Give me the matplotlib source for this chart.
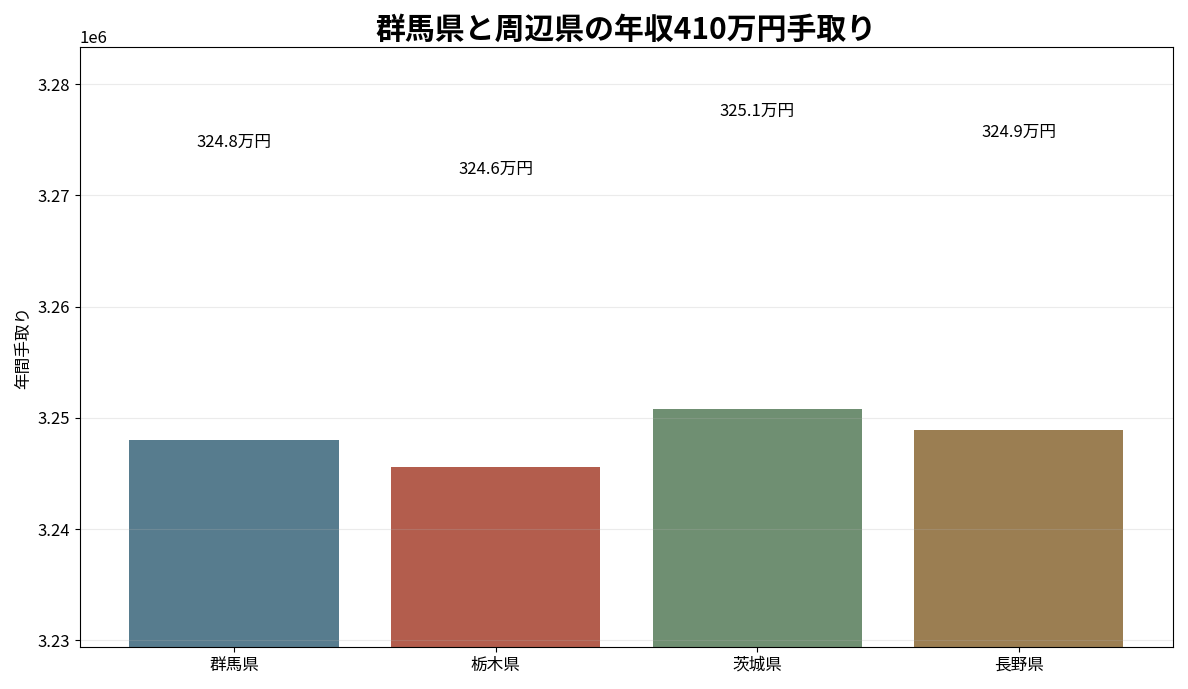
import matplotlib
matplotlib.use("Agg")
import matplotlib.pyplot as plt

plt.rcParams['font.family'] = ['Noto Sans CJK JP', 'DejaVu Sans']

# 手取り額（円）
prefs = ["群馬県", "栃木県", "茨城県", "長野県"]
takehome = [3248000, 3245600, 3250800, 3248900]
colors = ["#577c8e", "#b35d4d", "#6f8f72", "#9b7e52"]

fig, ax = plt.subplots(figsize=(11.88, 6.89), dpi=100)
bars = ax.bar(prefs, takehome, color=colors, width=0.8)

ax.set_ylim(min(takehome) * 0.995, max(takehome) * 1.01)
ax.grid(axis="y", alpha=0.25)

for b, v in zip(bars, takehome):
    ax.text(b.get_x() + b.get_width() / 2, v + max(takehome) * 0.008,
            "%.1f万円" % (v / 10000), ha="center", va="bottom", fontsize=12)

ax.set_ylabel("年間手取り", fontsize=12)
ax.set_title("群馬県と周辺県の年収410万円手取り", fontsize=21.5, fontweight="bold")
ax.tick_params(labelsize=12)
ax.yaxis.get_offset_text().set_fontsize(12)

plt.tight_layout()
plt.savefig("out.png", dpi=100)
